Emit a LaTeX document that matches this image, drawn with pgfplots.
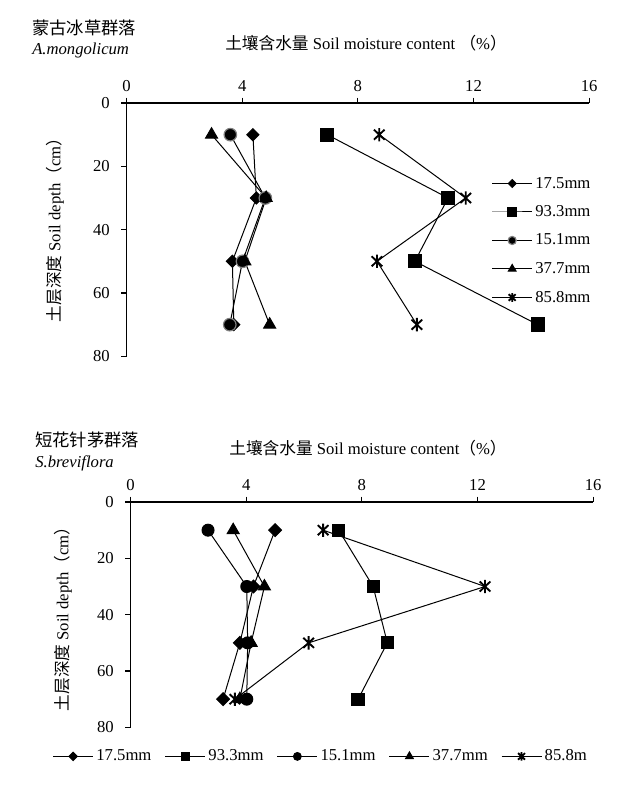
\documentclass[border=0pt]{standalone}
\usepackage{pgfplots}
\pgfplotsset{compat=1.18}
\usepackage{fontspec}
\setmainfont{Liberation Serif}
\newfontfamily\cjk{Noto Sans CJK SC}
\pgfdeclareplotmark{xstar}{%
  \pgfpathmoveto{\pgfqpoint{0pt}{\pgfplotmarksize}}%
  \pgfpathlineto{\pgfqpoint{0pt}{-\pgfplotmarksize}}%
  \pgfpathmoveto{\pgfqpoint{-.8\pgfplotmarksize}{.75\pgfplotmarksize}}%
  \pgfpathlineto{\pgfqpoint{.8\pgfplotmarksize}{-.75\pgfplotmarksize}}%
  \pgfpathmoveto{\pgfqpoint{-.8\pgfplotmarksize}{-.75\pgfplotmarksize}}%
  \pgfpathlineto{\pgfqpoint{.8\pgfplotmarksize}{.75\pgfplotmarksize}}%
  \pgfusepathqstroke}
\pgfplotsset{
  common/.style={
    scale only axis, width=347pt,
    xmin=0, xmax=16, ymin=0, ymax=80, y dir=reverse,
    xtick={0,4,8,12,16}, ytick={0,20,40,60,80},
    axis x line*=top, axis y line*=left,
    tick align=outside, major tick length=4pt,
    axis line style={line width=0.9pt, black},
    tick style={line width=0.9pt, black},
    /pgf/number format/assume math mode=true,
    xticklabel style={yshift=1pt},
    yticklabel style={xshift=-5pt},
    clip=false,
    legend cell align=left,
    legend image code/.code={\draw[mark repeat=2,mark phase=2,##1,every mark/.append style={scale=0.65}] plot coordinates {(0pt,0pt) (15pt,0pt) (30pt,0pt)};},
  },
  sa/.style={black, line width=0.75pt, mark=square*, mark size=3.2pt, mark options={rotate=45, fill=black, solid}},
  sb/.style={black, line width=0.75pt, mark=square*, mark size=5pt, mark options={fill=black, solid}},
  sc/.style={black, line width=0.75pt, mark=*, mark size=4.7pt, mark options={draw=gray, fill=black, line width=0.9pt, solid}},
  scb/.style={black, line width=0.75pt, mark=*, mark size=4.5pt, mark options={fill=black, solid}},
  sd/.style={black, line width=0.75pt, mark=triangle*, mark size=5.2pt, mark options={fill=black, solid}},
  se/.style={black, line width=0.75pt, mark=xstar, mark size=5pt, mark options={line width=1.4pt, solid}},
}
\begin{document}
\begin{tikzpicture}[font=\fontsize{12.5}{15}\selectfont]
\path (0,0) rectangle (474pt,-591pt);
% titles
\node[anchor=west, inner sep=0pt] at (24pt,-21pt) {\cjk\fontsize{13}{15}\selectfont 蒙古冰草群落};
\node[anchor=west, inner sep=0pt] at (24pt,-37.5pt) {\itshape A.mongolicum};
\node[inner sep=0pt] at (274.5pt,-32.25pt) {{\cjk 土壤含水量} Soil moisture content {\cjk（}\%{\cjk）}};
\node[anchor=west, inner sep=0pt] at (26.25pt,-330pt) {\cjk\fontsize{13}{15}\selectfont 短花针茅群落};
\node[anchor=west, inner sep=0pt] at (26.25pt,-347.25pt) {\itshape S.breviflora};
\node[inner sep=0pt] at (276pt,-336pt) {{\cjk 土壤含水量} Soil moisture content{\cjk（}\%{\cjk）}};
\node[inner sep=0pt, rotate=90] at (41.25pt,-169.5pt) {{\cjk 土层深度} Soil depth{\cjk（}cm{\cjk）}};
\node[inner sep=0pt, rotate=90] at (47.25pt,-461.25pt) {{\cjk 土层深度} Soil depth{\cjk（}cm{\cjk）}};

\begin{axis}[common, height=190pt, at={(94.9pt,-77.25pt)}, anchor=north west,
  legend style={draw=none, fill=none, at={(0.78,0.73)}, anchor=north west, row sep=7.6pt}]
\addplot[sa] coordinates {(4.37,10) (4.49,30) (3.66,50) (3.71,70)};
\addlegendentry{17.5mm}
\addplot[sb] coordinates {(6.94,10) (11.12,30) (9.97,50) (14.22,70)};
\addlegendentry{93.3mm}
\addplot[sc] coordinates {(3.59,10) (4.80,30) (4.01,50) (3.57,70)};
\addlegendentry{15.1mm}
\addplot[sd] coordinates {(2.94,10) (4.83,30) (4.09,50) (4.95,70)};
\addlegendentry{37.7mm}
\addplot[se] coordinates {(8.74,10) (11.73,30) (8.66,50) (10.04,70)};
\addlegendentry{85.8mm}
\end{axis}

\begin{axis}[common, height=169pt, at={(97.9pt,-376.5pt)}, anchor=north west,
  legend columns=5,
  legend style={draw=none, fill=none, at={(-0.1775,-0.129)}, anchor=west,
    /tikz/every even column/.append style={column sep=8pt}}]
\addplot[sa, mark size=3.4pt] coordinates {(5.00,10) (4.25,30) (3.78,50) (3.20,70)};
\addlegendentry{17.5mm}
\addplot[sb, mark size=4.6pt] coordinates {(7.20,10) (8.39,30) (8.88,50) (7.87,70)};
\addlegendentry{93.3mm}
\addplot[scb] coordinates {(2.68,10) (4.02,30) (4.05,50) (4.02,70)};
\addlegendentry{15.1mm}
\addplot[sd] coordinates {(3.55,10) (4.63,30) (4.17,50) (3.78,70)};
\addlegendentry{37.7mm}
\addplot[se] coordinates {(6.66,10) (12.26,30) (6.16,50) (3.61,70)};
\addlegendentry{85.8m}
\end{axis}
\end{tikzpicture}
\end{document}
